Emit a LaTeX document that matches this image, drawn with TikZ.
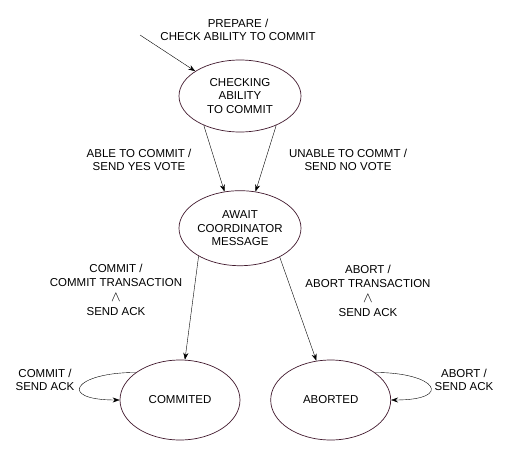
\documentclass[tikz,border=0pt]{standalone}
\usepackage{fontspec}
\setmainfont{Liberation Sans}
\usetikzlibrary{positioning, shapes.geometric, arrows.meta}
\definecolor{stateline}{RGB}{65,25,45}
\newcommand{\andsym}{{\fontsize{14}{14.3}\selectfont$\wedge$}}

\begin{document}
\begin{tikzpicture}
    [x=1pt, y=-1pt,
    every node/.style={font=\fontsize{11.5}{13.6}\selectfont},
    statenode/.style={ellipse, draw=stateline, line width=0.7pt, align=center, inner sep=0pt, minimum width=122pt, minimum height=72pt},
    endnode/.style={statenode, minimum width=120pt, minimum height=80pt},
    lbl/.style={align=center},
    >={Stealth[length=7pt,width=5pt]}]

    \useasboundingbox (0,0) rectangle (512,472);

    %Nodes
    \node[statenode](check) at (240,96){CHECKING\\ABILITY\\TO COMMIT};
    \node[statenode, minimum height=75pt](await)[below=58pt of check]{AWAIT\\COORDINATOR\\MESSAGE};
    \node[endnode](commited) at (180,400){COMMITED};
    \node[endnode](aborted)[right=30pt of commited]{ABORTED};
    \coordinate(start) at (140,35);

    %Labels
    \node[lbl](preparelbl) at (238,30){PREPARE /\\CHECK ABILITY TO COMMIT};
    \node[lbl](ablelbl) at (139,160){ABLE TO COMMIT /\\SEND YES VOTE};
    \node[lbl](unablelbl) at (348,160){UNABLE TO COMMT /\\SEND NO VOTE};
    \node[lbl, font=\fontsize{11.5}{14.3}\selectfont](commitlbl) at (116,290){COMMIT /\\COMMIT TRANSACTION\\\andsym\\SEND ACK};
    \node[lbl, font=\fontsize{11.5}{14.3}\selectfont](abortlbl) at (368,291){ABORT /\\ABORT TRANSACTION\\\andsym\\SEND ACK};
    \node[lbl](commitlooplbl) at (45,380){COMMIT /\\SEND ACK};
    \node[lbl](abortlooplbl) at (464,380){ABORT /\\SEND ACK};

    %Lines
    \draw[->](start)--(check.151);
    \draw[->](check.219)--(await.113);
    \draw[->](check.321)--(await.67);
    \draw[->](await.214)--(commited.83);
    \draw[->](await.324)--(aborted.110);
    \draw[->](commited.148) to[out=180,in=180,looseness=5](commited.west);
    \draw[->](aborted.32) to[out=0,in=0,looseness=5](aborted.east);
\end{tikzpicture}
\end{document}
